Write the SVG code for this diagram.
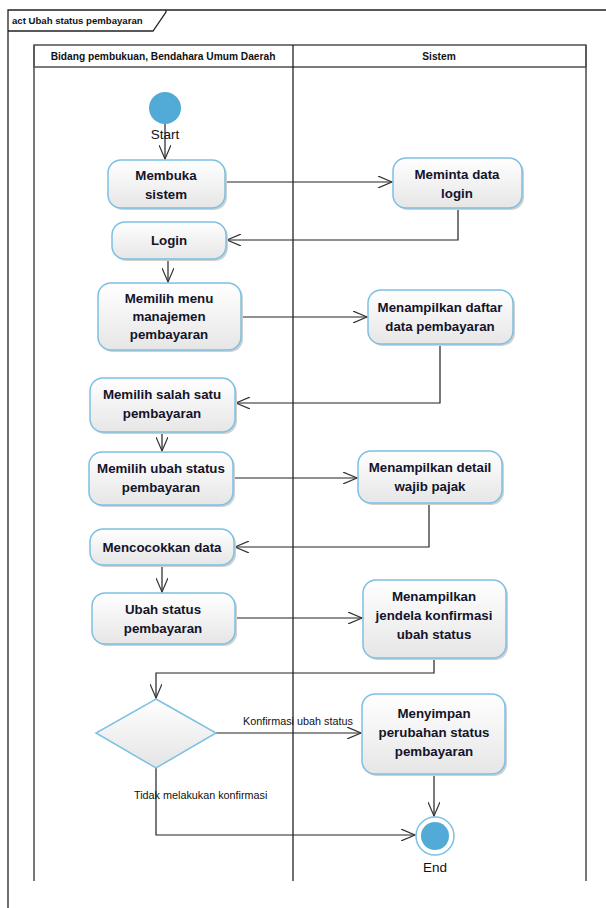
<svg xmlns="http://www.w3.org/2000/svg" width="606" height="908" viewBox="0 0 606 908">
<defs>
<linearGradient id="g" x1="0" y1="0" x2="0" y2="1">
<stop offset="0" stop-color="#ffffff"/>
<stop offset="1" stop-color="#e6e6e6"/>
</linearGradient>
<linearGradient id="gd" x1="0" y1="0" x2="0" y2="1">
<stop offset="0" stop-color="#ffffff"/>
<stop offset="1" stop-color="#e4e4e4"/>
</linearGradient>
<marker id="a" markerWidth="16" markerHeight="12" refX="14" refY="6" orient="auto" markerUnits="userSpaceOnUse">
<path d="M0,0 L14,6 L0,12" fill="none" stroke="#333" stroke-width="1.2"/>
</marker>
<style>
.n{fill:url(#g);stroke:#7cc0e3;stroke-width:1.5}
.sh{fill:#d0d0d0}
.t{font-family:"Liberation Sans",Arial,sans-serif;font-weight:bold;font-size:13.3px;fill:#14142a;text-anchor:middle}
.s{font-family:"Liberation Sans",Arial,sans-serif;font-size:10.8px;fill:#111}
.se{font-family:"Liberation Sans",Arial,sans-serif;font-size:13.5px;fill:#111;text-anchor:middle}
.fl{font-family:"Liberation Sans",Arial,sans-serif;font-weight:bold;font-size:9.6px;fill:#111}
.h{font-family:"Liberation Sans",Arial,sans-serif;font-weight:bold;font-size:10.2px;fill:#111;text-anchor:middle}
.c{fill:none;stroke:#222;stroke-width:1.2}
.l{fill:none;stroke:#222;stroke-width:1.3}
</style>
</defs>
<rect width="606" height="908" fill="#fff"/>
<g id="frame">
<path d="M8,908 L8,10 L606,10" class="l"/>
<path d="M8,31 L153,31 L166,12 L166,10" class="l"/>
<text x="12" y="24" class="fl">act Ubah status pembayaran</text>
</g>
<g id="lanes">
<rect x="34" y="45" width="552" height="22" fill="#fff" stroke="#333" stroke-width="1.3"/>
<line x1="34" y1="45" x2="34" y2="881" stroke="#555" stroke-width="1.6"/>
<line x1="293" y1="45" x2="293" y2="881" stroke="#111" stroke-width="1.2"/>
<line x1="586" y1="45" x2="586" y2="881" stroke="#555" stroke-width="1.6"/>
<text x="163" y="60" class="h">Bidang pembukuan, Bendahara Umum Daerah</text>
<text x="439" y="60" class="h">Sistem</text>
</g>
<g id="connectors">
<path class="c" d="M165,124 L165,159" marker-end="url(#a)"/>
<path class="c" d="M225,182 L392,182" marker-end="url(#a)"/>
<path class="c" d="M458,208 L458,240 L227,240" marker-end="url(#a)"/>
<path class="c" d="M168,259 L168,282" marker-end="url(#a)"/>
<path class="c" d="M241,317 L367,317" marker-end="url(#a)"/>
<path class="c" d="M440,344 L440,403 L236,403" marker-end="url(#a)"/>
<path class="c" d="M162,432 L162,451" marker-end="url(#a)"/>
<path class="c" d="M233,478 L357,478" marker-end="url(#a)"/>
<path class="c" d="M429,503 L429,547 L235,547" marker-end="url(#a)"/>
<path class="c" d="M162,565 L162,592" marker-end="url(#a)"/>
<path class="c" d="M235,618 L362,618" marker-end="url(#a)"/>
<path class="c" d="M434,658 L434,673 L156,673 L156,698" marker-end="url(#a)"/>
<path class="c" d="M216,733 L361,733" marker-end="url(#a)"/>
<path class="c" d="M156,768 L156,835 L415,835" marker-end="url(#a)"/>
<path class="c" d="M434,774 L434,816" marker-end="url(#a)"/>
<text x="243" y="725" class="s">Konfirmasi ubah status</text>
<text x="134" y="799" class="s">Tidak melakukan konfirmasi</text>
</g>
<g id="start">
<circle cx="165" cy="108" r="16" fill="#52aad6"/>
<text x="165" y="139" class="se">Start</text>
</g>
<g id="n1"><rect class="sh" x="110" y="162" width="117" height="48" rx="13"/><rect class="n" x="108" y="160" width="117" height="48" rx="13"/><text class="t" x="166" y="180">Membuka</text><text class="t" x="166" y="199">sistem</text></g>
<g id="n2"><rect class="sh" x="395" y="160" width="129" height="50" rx="13"/><rect class="n" x="393" y="158" width="129" height="50" rx="13"/><text class="t" x="457" y="179">Meminta data</text><text class="t" x="457" y="198">login</text></g>
<g id="n3"><rect class="sh" x="114" y="224" width="114" height="37" rx="13"/><rect class="n" x="112" y="222" width="114" height="37" rx="13"/><text class="t" x="169" y="245">Login</text></g>
<g id="n4"><rect class="sh" x="100" y="285" width="143" height="67" rx="13"/><rect class="n" x="98" y="283" width="143" height="67" rx="13"/><text class="t" x="169" y="303">Memilih menu</text><text class="t" x="169" y="321">manajemen</text><text class="t" x="169" y="339">pembayaran</text></g>
<g id="n5"><rect class="sh" x="370" y="292" width="145" height="54" rx="13"/><rect class="n" x="368" y="290" width="145" height="54" rx="13"/><text class="t" x="440" y="312">Menampilkan daftar</text><text class="t" x="440" y="331">data pembayaran</text></g>
<g id="n6"><rect class="sh" x="92" y="380" width="145" height="54" rx="13"/><rect class="n" x="90" y="378" width="145" height="54" rx="13"/><text class="t" x="162" y="399">Memilih salah satu</text><text class="t" x="162" y="418">pembayaran</text></g>
<g id="n7"><rect class="sh" x="91" y="454" width="144" height="53" rx="13"/><rect class="n" x="89" y="452" width="144" height="53" rx="13"/><text class="t" x="161" y="473">Memilih ubah status</text><text class="t" x="161" y="492">pembayaran</text></g>
<g id="n8"><rect class="sh" x="360" y="453" width="144" height="52" rx="13"/><rect class="n" x="358" y="451" width="144" height="52" rx="13"/><text class="t" x="430" y="472">Menampilkan detail</text><text class="t" x="430" y="491">wajib pajak</text></g>
<g id="n9"><rect class="sh" x="92" y="531" width="144" height="36" rx="13"/><rect class="n" x="90" y="529" width="144" height="36" rx="13"/><text class="t" x="162" y="552">Mencocokkan data</text></g>
<g id="n10"><rect class="sh" x="94" y="595" width="143" height="51" rx="13"/><rect class="n" x="92" y="593" width="143" height="51" rx="13"/><text class="t" x="163" y="614">Ubah status</text><text class="t" x="163" y="633">pembayaran</text></g>
<g id="n11"><rect class="sh" x="365" y="582" width="143" height="78" rx="13"/><rect class="n" x="363" y="580" width="143" height="78" rx="13"/><text class="t" x="434" y="601">Menampilkan</text><text class="t" x="434" y="620">jendela konfirmasi</text><text class="t" x="434" y="639">ubah status</text></g>
<g id="decision"><path d="M156,699 L216,733 L156,768 L96,733 Z" fill="url(#gd)" stroke="#7cc0e3" stroke-width="1.5"/></g>
<g id="n12"><rect class="sh" x="364" y="696" width="143" height="80" rx="13"/><rect class="n" x="362" y="694" width="143" height="80" rx="13"/><text class="t" x="434" y="718">Menyimpan</text><text class="t" x="434" y="737">perubahan status</text><text class="t" x="434" y="756">pembayaran</text></g>
<g id="end">
<circle cx="435" cy="836" r="19" fill="#fff" stroke="#7cc0e3" stroke-width="1.5"/>
<circle cx="435" cy="836" r="14" fill="#52aad6"/>
<text x="435" y="872" class="se">End</text>
</g>
</svg>
